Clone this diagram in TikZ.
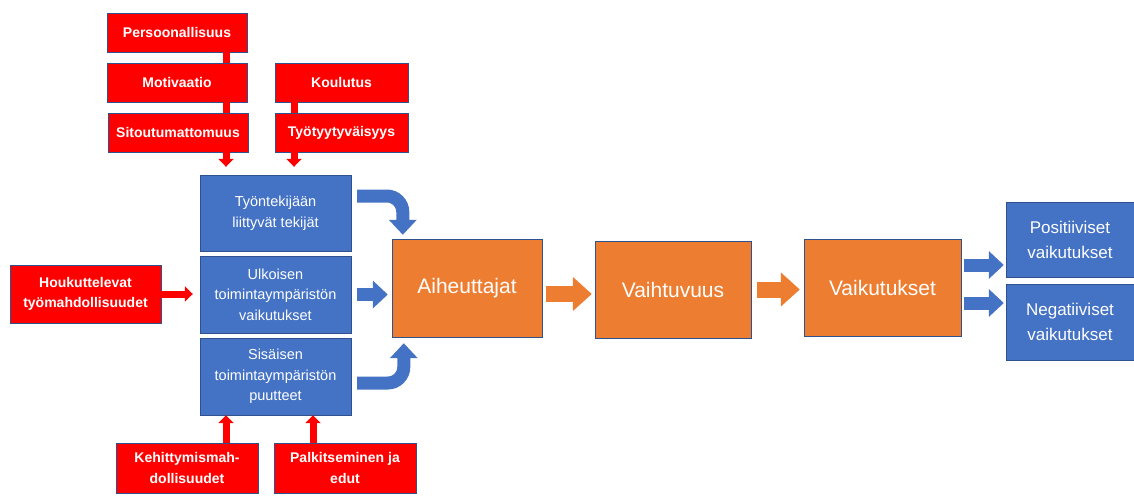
\documentclass[tikz,border=0pt]{standalone}
\usepackage{fontspec}
\setmainfont{Liberation Sans}
\usetikzlibrary{arrows.meta}
\definecolor{boxblue}{HTML}{4472C4}
\definecolor{boxorange}{HTML}{ED7D31}
\definecolor{boxred}{HTML}{FF0000}
\definecolor{edge}{HTML}{2F528F}

\begin{document}
\begin{tikzpicture}[x=1pt, y=-1pt,
    rbox/.style = {draw=edge, fill=boxred, text=white, align=center, inner sep=0pt,
      font=\fontsize{14}{20.5}\selectfont\bfseries, minimum width=140pt, minimum height=39pt},
    bbox/.style = {draw=edge, fill=boxblue, text=white, align=center, inner sep=0pt,
      font=\fontsize{14.5}{20.5}\selectfont, minimum width=151pt, minimum height=77pt},
    obox/.style = {draw=edge, fill=boxorange, text=white, inner sep=0pt,
      font=\fontsize{21}{25}\selectfont, minimum width=154pt, minimum height=97pt},
    rbar/.style = {boxred, line width=7pt},
    rarr/.style = {boxred, line width=7pt, -{Triangle[width=15pt,length=8pt]}},
    barr/.style = {boxblue, line width=13pt, -{Triangle[width=27pt,length=15pt]}},
    oarr/.style = {boxorange, line width=16pt, -{Triangle[width=33pt,length=19pt]}}]
    \useasboundingbox (0,0) rectangle (1134,495);
    \node[rbox] (1) at (177,32.5) {Persoonallisuus};
    \node[rbox] (2) at (177,82.5) {Motivaatio};
    \node[rbox] (3) at (178,132.5) {Sitoutumattomuus};
    \node[rbox, minimum width=133pt] (4) at (341.5,82.5) {Koulutus};
    \node[rbox, minimum width=133pt] (5) at (341.5,132.5) {Työtyytyväisyys};
    \node[bbox, minimum height=76pt] (6) at (275.5,213) {Työntekijään\\liittyvät tekijät};
    \node[bbox] (7) at (275.5,294.5) {Ulkoisen\\toimintaympäristön\\vaikutukset};
    \node[bbox] (8) at (275.5,376.5) {Sisäisen\\toimintaympäristön\\puutteet};
    \node[rbox, minimum width=151pt, minimum height=58pt] (9) at (85.5,294) {Houkuttelevat\\työmahdollisuudet};
    \node[obox, minimum width=150pt, minimum height=98pt] (10) at (467,288) {Aiheuttajat};
    \node[obox, minimum width=156pt] (11) at (673,289.5) {Vaihtuvuus};
    \node[obox, minimum width=157pt] (12) at (882.5,287.5) {Vaikutukset};
    \node[bbox, font=\fontsize{17}{25}\selectfont, minimum width=128pt, minimum height=75pt] (13) at (1070,239.5) {Positiiviset\\vaikutukset};
    \node[bbox, font=\fontsize{17}{25}\selectfont, minimum width=128pt, minimum height=76pt] (14) at (1070,322) {Negatiiviset\\vaikutukset};
    \node[rbox, minimum width=142pt, minimum height=50pt] (15) at (187,468) {Kehittymismah-\\dollisuudet};
    \node[rbox, minimum width=142pt, minimum height=50pt] (16) at (345,468) {Palkitseminen ja\\edut};
    \draw[rbar] ([xshift=49pt]1.south) -- ([xshift=49pt]2.north);
    \draw[rbar] ([xshift=49pt]2.south) -- ([xshift=48pt]3.north);
    \draw[rbar] ([xshift=-47.5pt]4.south) -- ([xshift=-47.5pt]5.north);
    \draw[rarr] ([xshift=48pt]3.south) -- ([xshift=-49.5pt,yshift=8pt]6.north);
    \draw[rarr] ([xshift=-47.5pt]5.south) -- ([xshift=18.5pt,yshift=8pt]6.north);
    \draw[rarr] (9.east) -- ([xshift=-7pt]9.east -| 7.west);
    \draw[rarr] ([xshift=39pt]15.north) -- ([xshift=-49.5pt]8.south);
    \draw[rarr] ([xshift=-32pt]16.north) -- ([xshift=37.5pt]8.south);
    \draw[barr, rounded corners=16pt] ([xshift=6pt,yshift=17pt]6.east) -| ([xshift=11pt,yshift=4pt]10.north west);
    \draw[barr] ([xshift=6pt]7.east) -- ([xshift=-4pt]7.east -| 10.west);
    \draw[barr, rounded corners=16pt] ([xshift=6pt,yshift=-6.5pt]8.east) -| ([xshift=12pt,yshift=-6pt]10.south west);
    \draw[oarr] ([xshift=4pt,yshift=-6pt]10.east) -- ([xshift=-3pt,yshift=-6pt]10.east -| 11.west);
    \draw[oarr] ([xshift=6pt]11.east) -- ([xshift=-4pt]11.east -| 12.west);
    \draw[barr] ([xshift=3pt,yshift=22.5pt]12.east) -- ([xshift=-2pt,yshift=-25.5pt]13.west);
    \draw[barr] ([xshift=3pt,yshift=-15.5pt]12.east) -- ([xshift=-2pt,yshift=19pt]14.west);
\end{tikzpicture}
\end{document}
